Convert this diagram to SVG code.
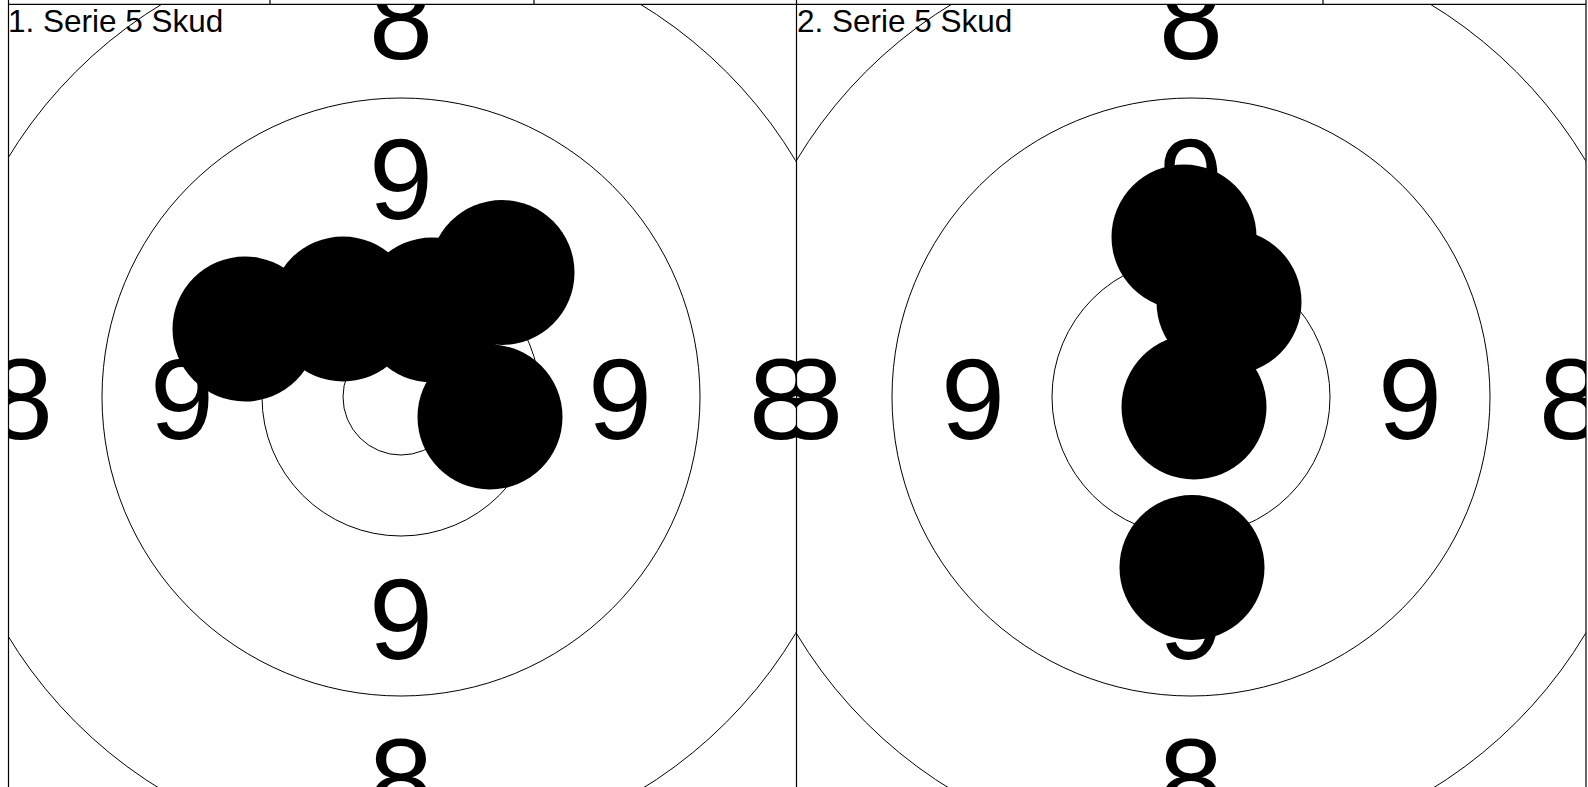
<svg xmlns="http://www.w3.org/2000/svg" width="1588" height="787" viewBox="0 0 1588 787">
<style>
.ring{fill:none;stroke:#000;stroke-width:1}
.num{font-family:"Liberation Sans",Arial,sans-serif;font-size:115px;fill:#000;text-anchor:middle}
.title{font-family:"Liberation Sans",Arial,sans-serif;font-size:31.5px;fill:#000}
.shot{fill:#000}
.frame{stroke:#000;stroke-width:1.2;fill:none}
</style>
<defs>
<clipPath id="c1"><rect x="8" y="4.5" width="788" height="783"/></clipPath>
<clipPath id="c2"><rect x="796" y="4.5" width="790" height="783"/></clipPath>
</defs>
<rect x="0" y="0" width="1588" height="787" fill="#fff"/>
<g id="panel1" clip-path="url(#c1)">
<circle class="ring" cx="401" cy="397" r="460"/>
<circle class="ring" cx="401" cy="397" r="299"/>
<circle class="ring" cx="401" cy="397" r="139"/>
<circle class="ring" cx="401" cy="397" r="58"/>
<text class="num" x="401" y="59">8</text>
<text class="num" x="401" y="819">8</text>
<text class="num" x="21" y="439">8</text>
<text class="num" x="781" y="439">8</text>
<text class="num" x="401" y="219">9</text>
<text class="num" x="401" y="659">9</text>
<text class="num" x="182" y="439">9</text>
<text class="num" x="620" y="439">9</text>
<circle class="shot" cx="245" cy="329" r="72.5"/>
<circle class="shot" cx="343" cy="309" r="72.5"/>
<circle class="shot" cx="432" cy="310" r="72.5"/>
<circle class="shot" cx="502" cy="272.5" r="72.5"/>
<circle class="shot" cx="490" cy="417" r="72.5"/>
<text class="title" x="8" y="32">1. Serie 5 Skud</text>
</g>
<g id="panel2" clip-path="url(#c2)">
<circle class="ring" cx="1191" cy="397" r="460"/>
<circle class="ring" cx="1191" cy="397" r="299"/>
<circle class="ring" cx="1191" cy="397" r="139"/>
<circle class="ring" cx="1191" cy="397" r="58"/>
<text class="num" x="1191" y="59">8</text>
<text class="num" x="1191" y="819">8</text>
<text class="num" x="811" y="439">8</text>
<text class="num" x="1571" y="439">8</text>
<text class="num" x="1191" y="219">9</text>
<text class="num" x="1191" y="659">9</text>
<text class="num" x="973" y="439">9</text>
<text class="num" x="1410" y="439">9</text>
<circle class="shot" cx="1229" cy="302" r="72.5"/>
<circle class="shot" cx="1184" cy="237" r="72.5"/>
<circle class="shot" cx="1194" cy="407" r="72.5"/>
<circle class="shot" cx="1192" cy="567.5" r="72.5"/>
<text class="title" x="797" y="32">2. Serie 5 Skud</text>
</g>
<g id="connectors">
<line class="frame" x1="8" y1="4.3" x2="1586" y2="4.3" stroke-width="1.6"/>
<line class="frame" x1="8.5" y1="0" x2="8.5" y2="787"/>
<line class="frame" x1="796.5" y1="0" x2="796.5" y2="787"/>
<line class="frame" x1="1586" y1="0" x2="1586" y2="787" stroke-width="1.6"/>
<line class="frame" x1="270" y1="0" x2="270" y2="4"/>
<line class="frame" x1="534" y1="0" x2="534" y2="4"/>
<line class="frame" x1="1323" y1="0" x2="1323" y2="4"/>
</g>
</svg>
